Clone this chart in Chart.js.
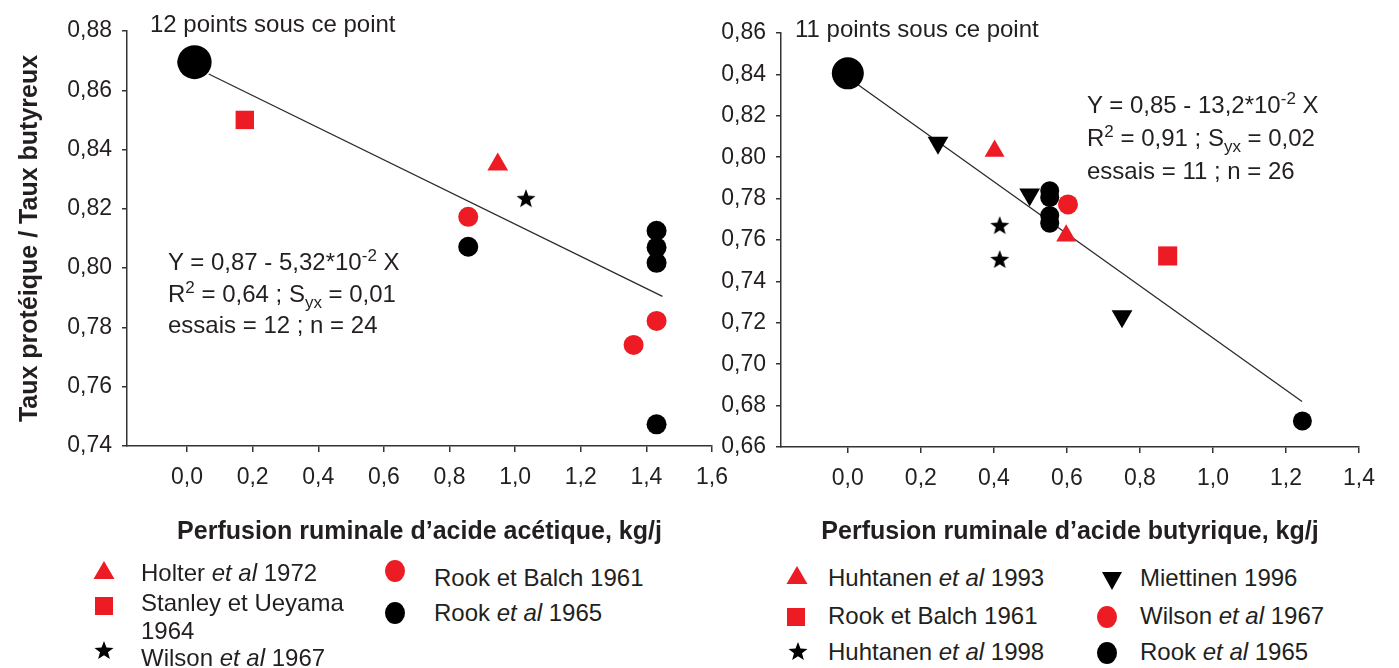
<!DOCTYPE html>
<html lang="fr">
<head>
<meta charset="utf-8">
<title>Taux protéique / Taux butyreux</title>
<script src="https://cdn.jsdelivr.net/npm/chart.js@4.4.1/dist/chart.umd.min.js"></script>
<style>
    body { margin: 0; background: #fff; }
    #page {
        position: relative;
        width: 1399px;
        height: 668px;
        overflow: hidden;
        font-family: "Liberation Sans", Arial, sans-serif;
        color: #231f20;
    }
    canvas { position: absolute; top: 0; }
    .txt { position: absolute; white-space: nowrap; font-size: 24px; line-height: 28px; }
    .eq { position: absolute; white-space: nowrap; font-size: 24px; }
    .eq sup, .eq sub { font-size: 17px; line-height: 0; }
    .sym { position: absolute; }
</style>
</head>
<body>
<div id="page">
    <canvas id="acetic-chart" width="740" height="560" style="left:0"></canvas>
    <canvas id="butyric-chart" width="699" height="560" style="left:700px"></canvas>

    <div class="txt" style="left:150px; top:10px">12 points sous ce point</div>
    <div class="txt" style="left:795px; top:15px">11 points sous ce point</div>

    <div class="eq" style="left:168px; top:246px; line-height:31.5px">
        Y = 0,87 - 5,32*10<sup>-2</sup> X<br>
        R<sup>2</sup> = 0,64 ; S<sub>yx</sub> = 0,01<br>
        essais = 12 ; n = 24
    </div>
    <div class="eq" style="left:1087px; top:88px; line-height:33px">
        Y = 0,85 - 13,2*10<sup>-2</sup> X<br>
        R<sup>2</sup> = 0,91 ; S<sub>yx</sub> = 0,02<br>
        essais = 11 ; n = 26
    </div>

    <!-- legend, left panel -->
    <div class="txt" style="left:141px; top:559px">Holter <i>et al</i> 1972</div>
    <div class="txt" style="left:141px; top:589px">Stanley et Ueyama</div>
    <div class="txt" style="left:141px; top:617px">1964</div>
    <div class="txt" style="left:141px; top:644px">Wilson <i>et al</i> 1967</div>
    <div class="txt" style="left:434px; top:564px">Rook et Balch 1961</div>
    <div class="txt" style="left:434px; top:599px">Rook <i>et al</i> 1965</div>

    <!-- legend, right panel -->
    <div class="txt" style="left:828px; top:564px">Huhtanen <i>et al</i> 1993</div>
    <div class="txt" style="left:828px; top:602px">Rook et Balch 1961</div>
    <div class="txt" style="left:828px; top:638px">Huhtanen <i>et al</i> 1998</div>
    <div class="txt" style="left:1140px; top:564px">Miettinen 1996</div>
    <div class="txt" style="left:1140px; top:602px">Wilson <i>et al</i> 1967</div>
    <div class="txt" style="left:1140px; top:638px">Rook <i>et al</i> 1965</div>
</div>

<script>
const RED = "#ed1c24";
const BLACK = "#000000";

// ---- acide acétique (left panel) ----
const aceticTicksX = [0, 0.2, 0.4, 0.6, 0.8, 1.0, 1.2, 1.4, 1.6];
const aceticTicksY = [0.74, 0.76, 0.78, 0.80, 0.82, 0.84, 0.86, 0.88];

const holter1972 = [{ x: 0.947, y: 0.835 }];
const stanleyUeyama1964 = [{ x: 0.176, y: 0.850 }];
const wilson1967Acetic = [{ x: 1.033, y: 0.8236 }];
const rookBalch1961Acetic = [
    { x: 0.0, y: 0.8695 },
    { x: 0.857, y: 0.8173 },
    { x: 1.361, y: 0.7741 },
    { x: 1.431, y: 0.7822 }
];
const rook1965Acetic = [
    { x: 0.857, y: 0.8072 },
    { x: 1.431, y: 0.8126 },
    { x: 1.431, y: 0.8070 },
    { x: 1.431, y: 0.8018 },
    { x: 1.431, y: 0.7473 }
];
const pooledAcetic = [{ x: 0.023, y: 0.8695 }];   // 12 points sous ce point
const fitAcetic = [{ x: 0.066, y: 0.8655 }, { x: 1.449, y: 0.7905 }];

// ---- acide butyrique (right panel) ----
const butyricTicksX = [0, 0.2, 0.4, 0.6, 0.8, 1.0, 1.2, 1.4];
const butyricTicksY = [0.66, 0.68, 0.70, 0.72, 0.74, 0.76, 0.78, 0.80, 0.82, 0.84, 0.86];

const huhtanen1993 = [{ x: 0.402, y: 0.803 }, { x: 0.598, y: 0.762 }];
const rookBalch1961Butyric = [{ x: 0.876, y: 0.7523 }];
const huhtanen1998 = [{ x: 0.416, y: 0.7672 }, { x: 0.416, y: 0.7508 }];
const miettinen1996 = [
    { x: 0.247, y: 0.807 },
    { x: 0.498, y: 0.782 },
    { x: 0.751, y: 0.7232 }
];
const wilson1967Butyric = [{ x: 0.603, y: 0.7772 }];
const rook1965Butyric = [
    { x: 0.553, y: 0.7838 },
    { x: 0.553, y: 0.7805 },
    { x: 0.553, y: 0.7718 },
    { x: 0.553, y: 0.7681 },
    { x: 1.245, y: 0.6726 }
];
const pooledButyric = [{ x: 0.0, y: 0.8405 }];   // 11 points sous ce point
const fitButyric = [{ x: 0.028, y: 0.835 }, { x: 1.244, y: 0.682 }];


Chart.defaults.font.family = "'Liberation Sans', Arial, sans-serif";
Chart.defaults.color = "#231f20";

function makeStar(radius, color) {
    const c = document.createElement("canvas");
    const size = Math.ceil(radius * 2) + 2;
    c.width = size;
    c.height = size;
    const g = c.getContext("2d");
    g.fillStyle = color;
    g.beginPath();
    for (let i = 0; i < 10; i++) {
        const r = i % 2 ? radius * 0.42 : radius;
        const a = -Math.PI / 2 + i * Math.PI / 5;
        const px = size / 2 + r * Math.cos(a);
        const py = size / 2 + r * Math.sin(a) + radius * 0.1;
        if (i === 0) g.moveTo(px, py); else g.lineTo(px, py);
    }
    g.closePath();
    g.fill();
    return c;
}

function pts(data, style, color, radius, extra) {
    return Object.assign({
        data: data,
        pointStyle: style,
        pointRadius: radius,
        pointBackgroundColor: color,
        pointBorderColor: color,
        pointBorderWidth: 0,
        showLine: false
    }, extra || {});
}

function fitLine(data) {
    return {
        data: data,
        showLine: true,
        borderColor: "#2a2a2a",
        borderWidth: 1.3,
        pointRadius: 0,
        order: 10
    };
}

function axes(o) {
    const comma = (d) => (v) => Number(v).toFixed(d).replace(".", ",");
    return {
        x: {
            type: "linear",
            min: o.xMin,
            max: o.xMax,
            afterBuildTicks: (s) => { s.ticks = o.xTicks.map(v => ({ value: v })); },
            afterFit: (s) => { s.height = o.xHeight; },
            border: { color: "#333", width: 1.5 },
            grid: { drawOnChartArea: false, color: "#333", lineWidth: 1.5, tickLength: 6 },
            ticks: { padding: 12, font: { size: 23 }, callback: comma(1) },
            title: {
                display: true,
                text: o.xTitle,
                font: { size: 25, weight: "bold", lineHeight: 1.2 },
                color: "#231f20",
                padding: { top: 0, bottom: 13 }
            }
        },
        y: {
            type: "linear",
            min: o.yMin,
            max: o.yMax,
            afterBuildTicks: (s) => { s.ticks = o.yTicks.map(v => ({ value: v })); },
            afterFit: (s) => { s.width = o.yWidth; },
            border: { color: "#333", width: 1.5 },
            grid: { drawOnChartArea: false, color: "#333", lineWidth: 1.5, tickLength: 5 },
            ticks: { padding: 10, font: { size: 23 }, callback: comma(2) },
            title: {
                display: !!o.yTitle,
                text: o.yTitle || "",
                font: { size: 25, weight: "bold", lineHeight: 1.2 },
                color: "#231f20",
                padding: { top: 15, bottom: 0 }
            }
        }
    };
}

function drawScatter(id, datasets, scaleOpts, padding) {
    const ctx = document.getElementById(id).getContext("2d");
    return new Chart(ctx, {
        type: "scatter",
        data: { datasets: datasets },
        options: {
            responsive: false,
            animation: false,
            devicePixelRatio: 1,
            layout: { padding: padding },
            plugins: { legend: { display: false }, tooltip: { enabled: false } },
            scales: axes(scaleOpts)
        }
    });
}

const starIcon = makeStar(10, BLACK);

drawScatter("acetic-chart", [
    pts(pooledAcetic, "circle", BLACK, 17),
    pts(holter1972, "triangle", RED, 12),
    pts(stanleyUeyama1964, "rect", RED, 13),
    pts(wilson1967Acetic, starIcon, BLACK, 10),
    pts(rookBalch1961Acetic, "circle", RED, 10),
    pts(rook1965Acetic, "circle", BLACK, 10),
    fitLine(fitAcetic)
], {
    xMin: -0.183, xMax: 1.6, xTicks: aceticTicksX,
    yMin: 0.74, yMax: 0.88, yTicks: aceticTicksY,
    xHeight: 114, yWidth: 127,
    xTitle: "Perfusion ruminale d\u2019acide acétique, kg/j",
    yTitle: "Taux protéique / Taux butyreux"
}, { top: 31, right: 27, bottom: 0, left: 0 });

drawScatter("butyric-chart", [
    pts(wilson1967Butyric, "circle", RED, 10),
    pts(huhtanen1993, "triangle", RED, 11.5),
    pts(rookBalch1961Butyric, "rect", RED, 13.5),
    pts(huhtanen1998, starIcon, BLACK, 10),
    pts(pooledButyric, "circle", BLACK, 16),
    pts(rook1965Butyric, "circle", BLACK, 9.5),
    pts(miettinen1996, "triangle", BLACK, 12, { rotation: 180 }),
    fitLine(fitButyric)
], {
    xMin: -0.183, xMax: 1.4, xTicks: butyricTicksX,
    yMin: 0.66, yMax: 0.86, yTicks: butyricTicksY,
    xHeight: 113, yWidth: 81,
    xTitle: "Perfusion ruminale d\u2019acide butyrique, kg/j",
    yTitle: ""
}, { top: 33, right: 40, bottom: 0, left: 0 });


// legend symbols (svg, drawn next to the html legend text)
function legendSymbol(kind, color, cx, cy) {
    const s = 24;
    let shape = "";
    if (kind === "triangle") shape = `<polygon points="12,2 22.5,20 1.5,20" fill="${color}"/>`;
    if (kind === "down") shape = `<polygon points="2,4 22,4 12,22" fill="${color}"/>`;
    if (kind === "rect") shape = `<rect x="3" y="3" width="18" height="18" fill="${color}"/>`;
    if (kind === "circle") shape = `<ellipse cx="12" cy="12" rx="10" ry="11" fill="${color}"/>`;
    if (kind === "star") {
        const p = [];
        for (let i = 0; i < 10; i++) {
            const r = i % 2 ? 4.2 : 10;
            const a = -Math.PI / 2 + i * Math.PI / 5;
            p.push((12 + r * Math.cos(a)).toFixed(2) + "," + (13 + r * Math.sin(a)).toFixed(2));
        }
        shape = `<polygon points="${p.join(" ")}" fill="${color}"/>`;
    }
    const el = document.createElement("div");
    el.className = "sym";
    el.style.left = (cx - s / 2) + "px";
    el.style.top = (cy - s / 2) + "px";
    el.innerHTML = `<svg width="${s}" height="${s}" viewBox="0 0 ${s} ${s}">${shape}</svg>`;
    document.getElementById("page").appendChild(el);
}

legendSymbol("triangle", RED, 104, 571);
legendSymbol("rect", RED, 104, 606);
legendSymbol("star", BLACK, 104, 650);
legendSymbol("circle", RED, 395, 571);
legendSymbol("circle", BLACK, 395, 613);

legendSymbol("triangle", RED, 797, 576);
legendSymbol("rect", RED, 796, 617);
legendSymbol("star", BLACK, 798, 651);
legendSymbol("down", BLACK, 1112, 580);
legendSymbol("circle", RED, 1107, 617);
legendSymbol("circle", BLACK, 1107, 653);
</script>
</body>
</html>
